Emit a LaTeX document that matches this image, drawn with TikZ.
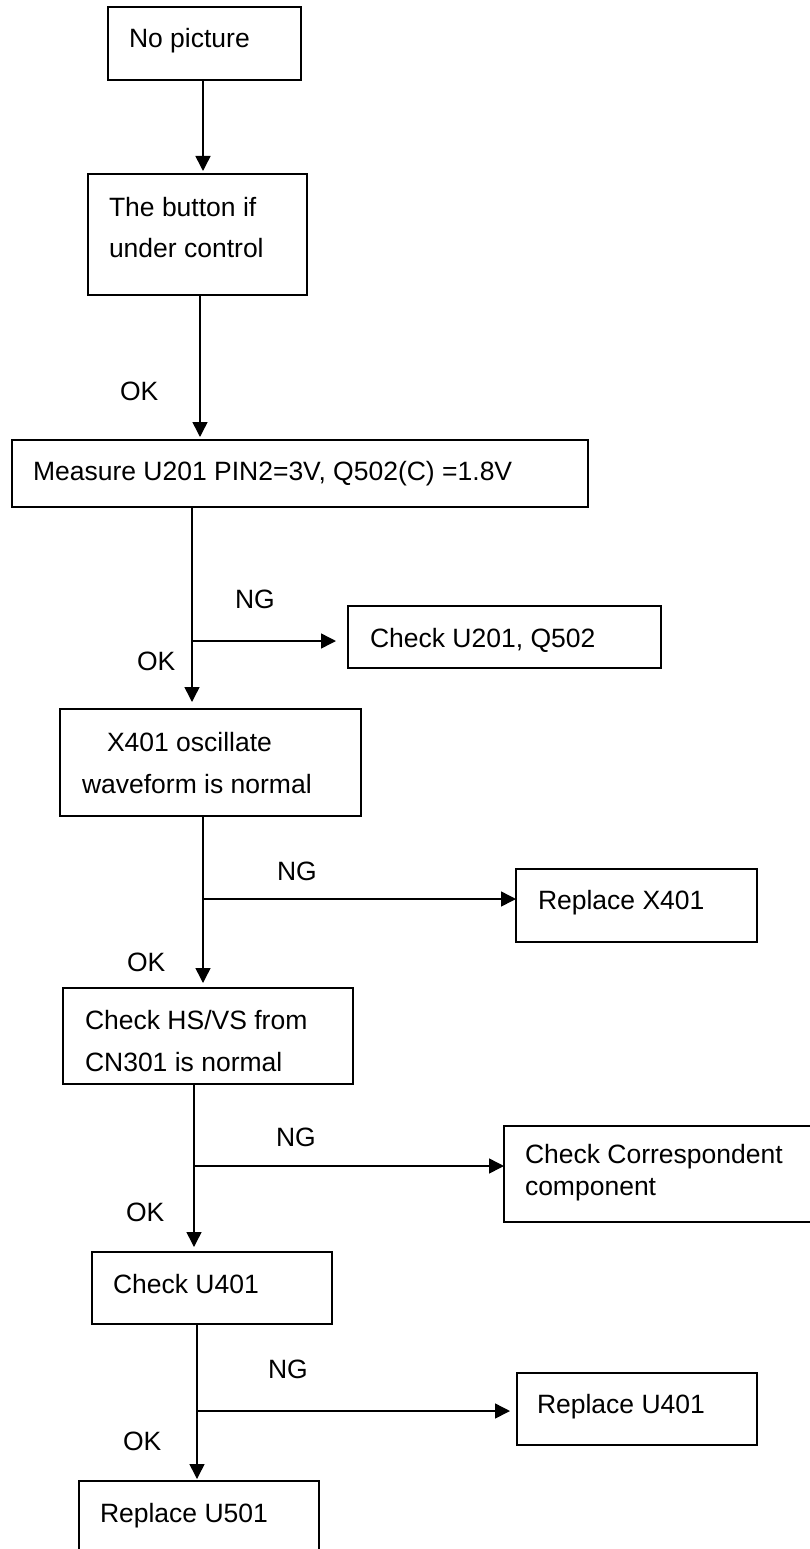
\documentclass[tikz,border=0pt]{standalone}
\usepackage{fontspec}
\setmainfont{Liberation Sans}
\usetikzlibrary{arrows.meta}
\begin{document}
\begin{tikzpicture}[x=1pt,y=-1pt,
  box/.style={draw=black,line width=1.8pt,rectangle,inner sep=0pt,outer sep=0pt,anchor=north west},
  txt/.style={inner sep=0pt,outer sep=0pt,anchor=base west,font=\fontsize{26.5}{41}\selectfont},
  arr/.style={line width=1.5pt,-{Triangle[length=15pt,width=15pt]}},
  ln/.style={line width=1.5pt}]
\clip (0,0) rectangle (810,1549);
\fill[white] (0,0) rectangle (810,1549);
% boxes
\node[box,minimum width=193pt,minimum height=73pt] (b1) at (108,7) {};
\node[box,minimum width=219pt,minimum height=121pt] (b2) at (88,174) {};
\node[box,minimum width=576pt,minimum height=67pt] (b3) at (12,440) {};
\node[box,minimum width=313pt,minimum height=62pt] (b4) at (348,606) {};
\node[box,minimum width=301pt,minimum height=107pt] (b5) at (60,709) {};
\node[box,minimum width=241pt,minimum height=73pt] (b6) at (516,869) {};
\node[box,minimum width=290pt,minimum height=96pt] (b7) at (63,988) {};
\node[box,minimum width=330pt,minimum height=96pt] (b8) at (504,1126) {};
\node[box,minimum width=240pt,minimum height=72pt] (b9) at (92,1252) {};
\node[box,minimum width=240pt,minimum height=72pt] (b10) at (517,1373) {};
\node[box,minimum width=240pt,minimum height=100pt] (b11) at (79,1481) {};
% texts
\node[txt] (t1) at (129,48) {No picture};
\node[txt] (t2a) at (109,216) {The button if};
\node[txt] (t2b) at (109,257) {under control};
\node[txt] (t3) at (33,480) {Measure U201 PIN2=3V, Q502(C) =1.8V};
\node[txt] (t4) at (370,647) {Check U201, Q502};
\node[txt] (t5a) at (107,751) {X401 oscillate};
\node[txt] (t5b) at (82,793) {waveform is normal};
\node[txt] (t6) at (538,909) {Replace X401};
\node[txt] (t7a) at (85,1029) {Check HS/VS from};
\node[txt] (t7b) at (85,1071) {CN301 is normal};
\node[txt] (t8a) at (525,1163) {Check Correspondent};
\node[txt] (t8b) at (525,1195) {component};
\node[txt] (t9) at (113,1293) {Check U401};
\node[txt] (t10) at (537,1413) {Replace U401};
\node[txt] (t11) at (100,1522) {Replace U501};
% labels
\node[txt] (ok1) at (120,400) {OK};
\node[txt] (ng2) at (235,608) {NG};
\node[txt] (ok2) at (137,670) {OK};
\node[txt] (ng3) at (277,880) {NG};
\node[txt] (ok3) at (127,971) {OK};
\node[txt] (ng4) at (276,1146) {NG};
\node[txt] (ok4) at (126,1221) {OK};
\node[txt] (ng5) at (268,1378) {NG};
\node[txt] (ok5) at (123,1450) {OK};
% junction coordinates
\coordinate (c1) at (203,0);
\coordinate (c2) at (200,0);
\coordinate (j3) at (192,641);
\coordinate (j4) at (203,899);
\coordinate (j5) at (194,1166);
\coordinate (j6) at (197,1411);
% connectors
\draw[arr,shorten >=3pt] (b1.south -| c1) -- (b2.north -| c1);
\draw[arr,shorten >=3pt] (b2.south -| c2) -- (b3.north -| c2);
\draw[arr,shorten >=7pt] (b3.south -| j3) -- (b5.north -| j3);
\draw[arr,shorten >=12pt] (j3) -- (j3 -| b4.west);
\draw[arr,shorten >=5pt] (b5.south -| j4) -- (b7.north -| j4);
\draw[arr] (j4) -- (j4 -| b6.west);
\draw[arr,shorten >=5pt] (b7.south -| j5) -- (b9.north -| j5);
\draw[arr] (j5) -- (j5 -| b8.west);
\draw[arr,shorten >=2pt] (b9.south -| j6) -- (b11.north -| j6);
\draw[arr,shorten >=7pt] (j6) -- (j6 -| b10.west);
\end{tikzpicture}
\end{document}
